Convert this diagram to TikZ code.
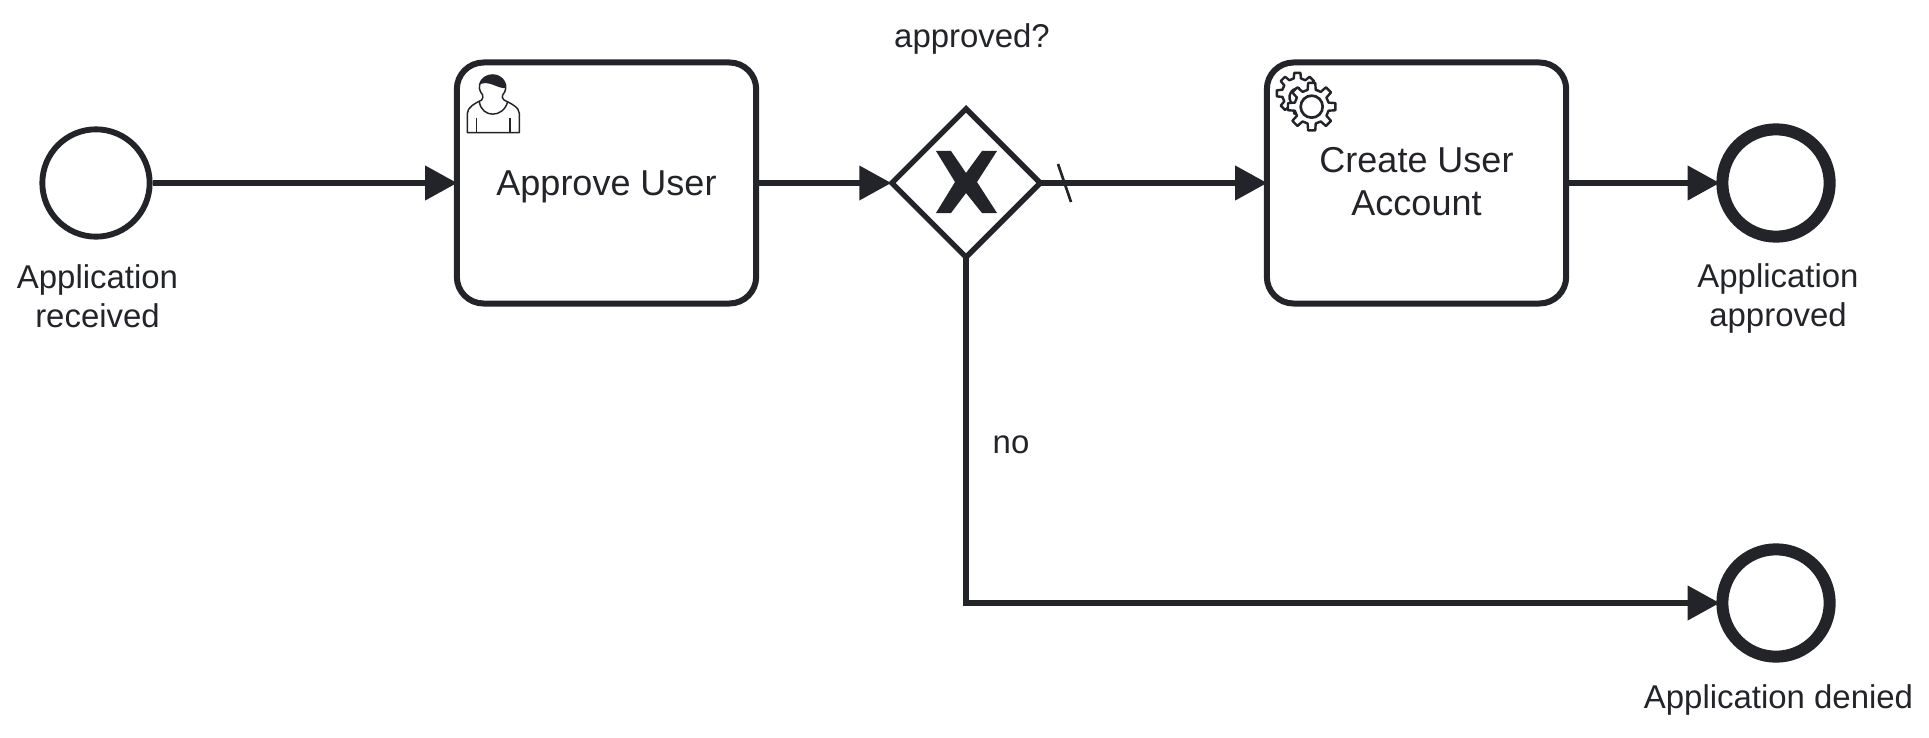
\documentclass[tikz,border=0pt]{standalone}
\usepackage{fontspec}
\setmainfont{Liberation Sans}
\usetikzlibrary{arrows.meta,shapes.geometric,calc}
\definecolor{ink}{HTML}{22242A}
\newcommand{\gearshape}[5]{% cx cy rout rin teeth
  \pgfmathsetmacro{\gstep}{360/#5}
  \draw[iconline,line width=1.8pt,fill=white] (#1,#2) ++(-0.30*\gstep:#4)
    \foreach \gi in {1,...,#5} {
      -- ($(#1,#2)+({(\gi-1-0.19)*\gstep}:#3)$)
      -- ($(#1,#2)+({(\gi-1+0.19)*\gstep}:#3)$)
      -- ($(#1,#2)+({(\gi-1+0.30)*\gstep}:#4)$)
      -- ($(#1,#2)+({(\gi-0.30)*\gstep}:#4)$)
    } -- cycle;
}
\tikzset{
  flow/.style={ink,line width=4.5pt,shorten >=-2.5pt,-{Triangle[length=24pt,width=25pt]}},
  gateflow/.style={flow,shorten <=-3pt},
  startev/.style={circle,draw=ink,line width=4.4pt,minimum size=80.5pt,inner sep=0pt,fill=white},
  endev/.style={circle,draw=ink,line width=9pt,minimum size=80.5pt,inner sep=0pt,fill=white},
  taskbox/.style={rectangle,draw=ink,line width=4.5pt,rounded corners=20pt,minimum width=224.5pt,minimum height=180.75pt,inner sep=0pt,align=center,text=ink,font=\fontsize{27}{32.2}\selectfont,fill=white},
  gate/.style={diamond,draw=ink,line width=4pt,minimum width=113pt,minimum height=113pt,inner sep=0pt,aspect=1,fill=white},
  lbl/.style={text=ink,align=center,inner sep=0pt,font=\fontsize{24.7}{29.2}\selectfont},
  iconline/.style={draw=ink,line width=1.1pt,line join=round},
}
\begin{document}
\begin{tikzpicture}[x=0.75pt,y=-0.75pt]
\useasboundingbox (0,0) rectangle (1929,738);
% nodes
\node[startev] (start) at (96,183) {};
\node[taskbox] (approve) at (606.5,183) {\rule{0pt}{24pt}Approve User};
\node[gate] (gw) at (966,183) {};
\node[taskbox] (create) at (1416.5,183) {Create User\\Account\rule[-1.8pt]{0pt}{1pt}};
\node[endev] (endok) at (1776,183) {};
\node[endev] (endno) at (1776,603) {};
% connectors
\coordinate (corner) at (gw.south |- endno.west);
\draw[flow] (start) -- (approve);
\draw[flow] (approve) -- (gw);
\draw[gateflow] (gw) -- (create);
\draw[flow] (create) -- (endok);
\draw[gateflow] (gw.south) -- (corner) -- (endno.west);
% default-flow slash
\coordinate (slashA) at (1058,164);
\coordinate (slashB) at (1071,202);
\draw[ink,line width=2pt] (slashA) -- (slashB);
% gateway X marker
\fill[ink] (936,151) -- (951,151) -- (966,173) -- (982,151) -- (997,151) -- (977,182) -- (997,213) -- (982,213) -- (966,193) -- (951,213) -- (936,213) -- (955,182) -- cycle;
% labels
\node[lbl] (lstart) at (97.5,296) {Application\\received};
\node[lbl] (lq) at (972,38.5) {approved?};
\node[lbl] (lno) at (1011,444.5) {no};
\node[lbl] (lok) at (1778,298.5) {Application\\approved};
\node[lbl] (lden) at (1778.5,700) {Application denied};
% user icon
\begin{scope}[shift={(440,50)},x=0.25pt,y=-0.25pt]
  \draw[iconline,fill=white] (82,248) -- (82,190) .. controls (82,172) and (105,160) .. (125,150) .. controls (128,146) and (130,140) .. (128,135) .. controls (105,110) and (125,75) .. (158,75) .. controls (190,75) and (210,110) .. (188,135) .. controls (185,140) and (187,146) .. (192,150) .. controls (212,160) and (238,172) .. (238,190) -- (238,248) -- cycle;
  \fill[ink] (118,104) .. controls (120,85) and (140,74) .. (158,74) .. controls (180,74) and (198,90) .. (197,114) .. controls (175,118) and (145,88) .. (118,104) -- cycle;
  \draw[iconline] (118,155) .. controls (125,205) and (190,205) .. (203,155);
  \draw[iconline] (110,205) -- (110,248);
  \draw[iconline] (210,205) -- (210,248);
\end{scope}
% gears icon
\begin{scope}[shift={(1250,50)},x=0.25pt,y=-0.25pt]
  \gearshape{142}{130}{62}{46}{8}
  \draw[iconline,line width=1.8pt] (150,115) arc (-80:-250:27);
  \gearshape{185}{170}{72}{52}{8}
  \draw[iconline,line width=2pt,fill=white] (185,170) circle[radius=33];
\end{scope}
\end{tikzpicture}
\end{document}
